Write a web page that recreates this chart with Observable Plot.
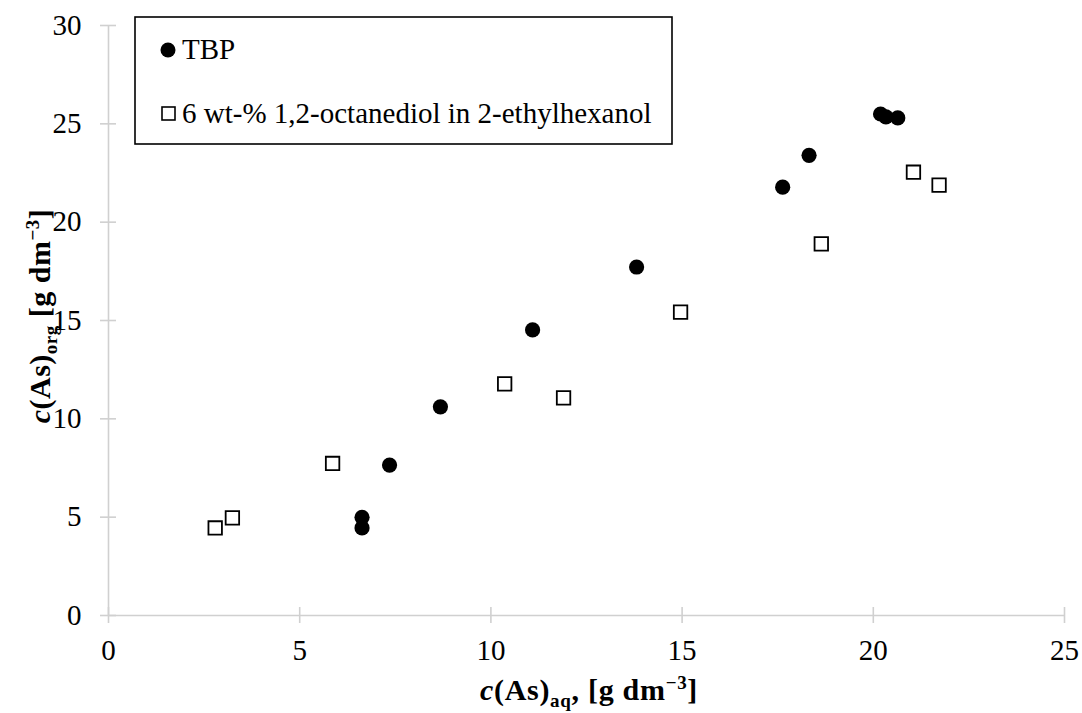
<!DOCTYPE html>
<html>
<head>
<meta charset="utf-8">
<script src="https://cdn.jsdelivr.net/npm/d3@7"></script>
<script src="https://cdn.jsdelivr.net/npm/@observablehq/plot@0.6"></script>
<style>
  html, body { margin: 0; padding: 0; background: #fff; }
  #chart { width: 1082px; height: 713px; }
  svg text { font-family: "Liberation Serif", "DejaVu Serif", serif; }
</style>
</head>
<body>
<div id="chart"></div>
<script>
// Series: TBP
const tbpX = [6.63, 6.63, 7.35, 8.68, 11.09, 13.81, 17.63, 18.32, 20.19, 20.33, 20.64];
const tbpY = [4.45, 4.99, 7.65, 10.61, 14.52, 17.72, 21.78, 23.4, 25.5, 25.35, 25.3];
// Series: 6 wt-% 1,2-octanediol in 2-ethylhexanol
const octX = [2.79, 3.24, 5.86, 10.36, 11.9, 14.96, 18.64, 21.05, 21.72];
const octY = [4.45, 4.96, 7.73, 11.78, 11.07, 15.43, 18.9, 22.54, 21.88];
const seriesNames = ["TBP", "6 wt-% 1,2-octanediol in 2-ethylhexanol"];
const xTicks = [0, 5, 10, 15, 20, 25];
const yTicks = [0, 5, 10, 15, 20, 25, 30];

const tbp = tbpX.map((x, i) => ({x, y: tbpY[i]}));
const oct = octX.map((x, i) => ({x, y: octY[i]}));

const W = 1082, H = 713;
const axisColor = "#d0d0d0";
const font = "Liberation Serif, DejaVu Serif, serif";
const FS = 29;

const plot = Plot.plot({
  width: W,
  height: H,
  marginTop: 25,
  marginBottom: 98,
  marginLeft: 108,
  marginRight: 18,
  style: {fontFamily: font, fontSize: FS + "px", color: "#000", background: "#fff"},
  x: {domain: [0, 25], label: null},
  y: {domain: [0, 30], label: null},
  marks: [
    Plot.ruleY([0], {stroke: axisColor, strokeWidth: 1.6}),
    Plot.ruleX([0], {stroke: axisColor, strokeWidth: 1.6}),
    // crossing tick marks
    Plot.axisX({ticks: xTicks, tickSize: 16, dy: -8, stroke: axisColor, strokeWidth: 1.6, tickFormat: () => ""}),
    Plot.axisY({ticks: yTicks, tickSize: 16, dx: 8, stroke: axisColor, strokeWidth: 1.6, tickFormat: () => ""}),
    // tick labels
    Plot.axisX({ticks: xTicks, tickSize: 0, tickPadding: 24, fill: "#000", fontSize: FS, label: null}),
    Plot.axisY({ticks: yTicks, tickSize: 0, tickPadding: 27, fill: "#000", fontSize: FS, label: null}),
    Plot.dot(tbp, {x: "x", y: "y", r: 7.6, fill: "#000", stroke: "none"}),
    Plot.dot(oct, {x: "x", y: "y", r: 7.6, symbol: "square", fill: "#fff", stroke: "#000", strokeWidth: 1.8})
  ]
});

document.getElementById("chart").appendChild(plot);

const svg = d3.select(plot);
const xs = plot.scale("x"), ys = plot.scale("y");

function titleText(sel, sub) {
  sel.append("tspan").attr("font-style", "italic").text("c");
  sel.append("tspan").text("(As)");
  sel.append("tspan").attr("font-size", 19).attr("dy", 7).text(sub);
  sel.append("tspan").attr("dy", -7).text(sub === "aq" ? ", [g dm" : " [g dm");
  sel.append("tspan").attr("font-size", 19).attr("dy", -11).text("−3");
  sel.append("tspan").attr("dy", 11).text("]");
}

// Axis titles with italic / sub / superscript
const xt = svg.append("text")
  .attr("x", (xs.apply(0) + xs.apply(25)) / 2 + 3)
  .attr("y", 700)
  .attr("text-anchor", "middle")
  .attr("font-family", font)
  .attr("font-size", 30)
  .attr("font-weight", "bold")
  .attr("letter-spacing", 0.7)
  .attr("fill", "#000");
titleText(xt, "aq");

const cy = (ys.apply(0) + ys.apply(30)) / 2 - 4;
const yt = svg.append("text")
  .attr("transform", `translate(50,${cy}) rotate(-90)`)
  .attr("text-anchor", "middle")
  .attr("font-family", font)
  .attr("font-size", 30)
  .attr("font-weight", "bold")
  .attr("letter-spacing", 0.5)
  .attr("fill", "#000");
titleText(yt, "org");

// Legend box
const lg = svg.append("g").attr("text-anchor", "start");
lg.append("rect").attr("x", 135).attr("y", 17).attr("width", 537).attr("height", 127)
  .attr("fill", "#fff").attr("stroke", "#000").attr("stroke-width", 1.6);
lg.append("circle").attr("cx", 168).attr("cy", 50).attr("r", 7.5).attr("fill", "#000");
lg.append("text").attr("x", 182).attr("y", 59).attr("font-family", font).attr("font-size", FS)
  .attr("text-anchor", "start").attr("fill", "#000").text(seriesNames[0]);
lg.append("rect").attr("x", 162).attr("y", 107).attr("width", 13).attr("height", 13)
  .attr("fill", "#fff").attr("stroke", "#000").attr("stroke-width", 1.6);
lg.append("text").attr("x", 182).attr("y", 123).attr("font-family", font).attr("font-size", FS)
  .attr("text-anchor", "start").attr("fill", "#000").text(seriesNames[1]);
</script>
</body>
</html>
